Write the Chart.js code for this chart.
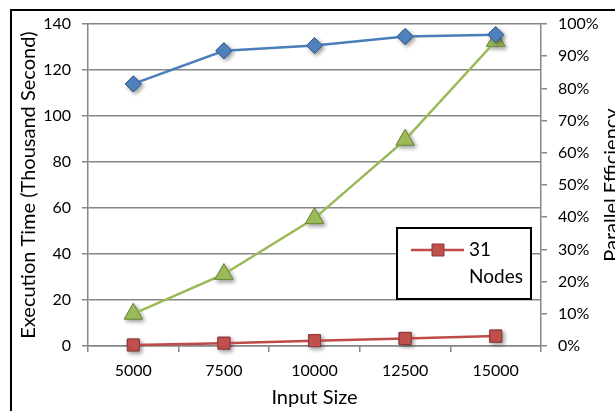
<!DOCTYPE html>
<html>
<head>
<meta charset="utf-8">
<script src="https://cdn.jsdelivr.net/npm/chart.js@4"></script>
<style>
  html, body { margin: 0; padding: 0; background: #fff; overflow: hidden; width: 615px; height: 411px; }
  #wrap { position: relative; width: 615px; height: 411px; overflow: hidden; background: #fff; }
  #c { position: absolute; left: 0; top: 0; }
  #frame { position: absolute; left: 10px; top: 9px; width: 700px; height: 500px; border: 2px solid #000; pointer-events: none; }
</style>
</head>
<body>
<div id="wrap">
  <canvas id="c" width="640" height="411"></canvas>
  <div id="frame"></div>
</div>
<script>
// Input sizes on the category axis
const inputSizes = ['5000', '7500', '10000', '12500', '15000'];
// Parallel efficiency, percent (right axis)
const efficiencyPct = [81.4, 91.7, 93.3, 96.1, 96.7];
// Execution time, thousand seconds (left axis)
const timeSerial = [14.0, 31.2, 55.5, 89.6, 132.6];
const time31Nodes = [0.4, 1.2, 2.3, 3.3, 4.3];
// Axis tick values
const timeTicks = [0, 20, 40, 60, 80, 100, 120, 140];
const effTicks = [0, 10, 20, 30, 40, 50, 60, 70, 80, 90, 100];

const FONT = 'Lato';
const AXIS_GRAY = '#868686';

const BLUE = { line: '#4A7EBB', fill: '#4F81BD', edge: '#385D8A' };
const RED = { line: '#BE4B48', fill: '#C0504D', edge: '#8C3836' };
const GREEN = { line: '#98B954', fill: '#9BBB59', edge: '#71893F' };

// Soft drop shadow under each marker, drawn before the series itself
const markerShadowPlugin = {
  id: 'markerShadow',
  beforeDatasetDraw(chart, args) {
    const ctx = chart.ctx;
    ctx.save();
    ctx.shadowColor = 'rgba(0,0,0,0.4)';
    ctx.shadowBlur = 4;
    ctx.shadowOffsetX = 2;
    ctx.shadowOffsetY = 2;
    args.meta.data.forEach(pt => pt.draw(ctx, chart.chartArea));
    ctx.restore();
  }
};

// Right axis title reads bottom-to-top
const rightTitlePlugin = {
  id: 'rightTitle',
  afterDraw(chart) {
    const ctx = chart.ctx;
    const a = chart.chartArea;
    ctx.save();
    ctx.translate(612, (a.top + a.bottom) / 2);
    ctx.rotate(-Math.PI / 2);
    ctx.font = '20px ' + FONT;
    ctx.fillStyle = '#000';
    ctx.textAlign = 'center';
    ctx.textBaseline = 'middle';
    ctx.fillText('Parallel Efficiency', 0, 0);
    ctx.restore();
  }
};

// Boxed legend for the 31-node series, text wrapped on two lines
const boxLegendPlugin = {
  id: 'boxLegend',
  afterDatasetsDraw(chart) {
    const ctx = chart.ctx;
    const a = chart.chartArea;
    const ds = chart.data.datasets[2];
    const x0 = a.right - 144, y0 = a.top + 204, w = 134, h = 71;
    ctx.save();
    ctx.fillStyle = '#fff';
    ctx.fillRect(x0, y0, w, h);
    ctx.lineWidth = 2;
    ctx.strokeStyle = '#000';
    ctx.strokeRect(x0, y0, w, h);
    const ly = y0 + 22;
    ctx.strokeStyle = ds.borderColor;
    ctx.lineWidth = ds.borderWidth;
    ctx.beginPath();
    ctx.moveTo(x0 + 14, ly);
    ctx.lineTo(x0 + 67, ly);
    ctx.stroke();
    ctx.restore();
    ctx.save();
    ctx.fillStyle = ds.pointBackgroundColor;
    ctx.strokeStyle = ds.pointBorderColor;
    ctx.lineWidth = ds.pointBorderWidth;
    Chart.helpers.drawPoint(ctx, {
      pointStyle: ds.pointStyle,
      radius: ds.pointRadius,
      borderWidth: ds.pointBorderWidth,
      rotation: 0
    }, x0 + 41, ly);
    ctx.restore();
    ctx.save();
    ctx.font = '19px ' + FONT;
    ctx.fillStyle = '#000';
    ctx.textAlign = 'left';
    ctx.textBaseline = 'middle';
    ctx.fillText('31', x0 + 72, ly);
    ctx.fillText('Nodes', x0 + 72, ly + 27);
    ctx.restore();
  }
};

function fixedTicks(values) {
  return function (scale) {
    scale.ticks = values.map(v => ({ value: v }));
  };
}

function build() {
  Chart.defaults.font.family = FONT;
  Chart.defaults.color = '#000';

  new Chart(document.getElementById('c'), {
    type: 'line',
    data: {
      labels: inputSizes,
      datasets: [
        {
          label: 'Parallel Efficiency',
          data: efficiencyPct,
          yAxisID: 'y1',
          borderColor: BLUE.line,
          borderWidth: 2.5,
          pointStyle: 'rectRot',
          pointRadius: 8,
          pointBackgroundColor: BLUE.fill,
          pointBorderColor: BLUE.edge,
          pointBorderWidth: 1,
          tension: 0
        },
        {
          label: 'Execution Time',
          data: timeSerial,
          yAxisID: 'y',
          borderColor: GREEN.line,
          borderWidth: 2.5,
          pointStyle: 'triangle',
          pointRadius: 10.5,
          pointBackgroundColor: GREEN.fill,
          pointBorderColor: GREEN.edge,
          pointBorderWidth: 1,
          tension: 0
        },
        {
          label: '31 Nodes',
          data: time31Nodes,
          yAxisID: 'y',
          borderColor: RED.line,
          borderWidth: 2.5,
          pointStyle: 'rect',
          pointRadius: 8.5,
          pointBackgroundColor: RED.fill,
          pointBorderColor: RED.edge,
          pointBorderWidth: 1,
          tension: 0
        }
      ]
    },
    options: {
      responsive: false,
      animation: false,
      devicePixelRatio: 1,
      layout: { padding: { top: 24, left: 0, right: 0, bottom: 0 } },
      plugins: {
        legend: { display: false },
        tooltip: { enabled: false },
        title: { display: false }
      },
      scales: {
        x: {
          type: 'category',
          offset: true,
          grid: { drawOnChartArea: false, offset: true, tickLength: 6, color: AXIS_GRAY, lineWidth: 1.5 },
          border: { color: AXIS_GRAY, width: 1.5 },
          ticks: { font: { size: 16 }, color: '#000', padding: 9, maxRotation: 0, autoSkip: false },
          title: { display: true, text: 'Input Size', font: { size: 20 }, color: '#000', padding: { top: 0, bottom: 1 } },
          afterFit(s) { s.height = 65; }
        },
        y: {
          position: 'left',
          min: 0,
          max: 140,
          afterBuildTicks: fixedTicks(timeTicks),
          grid: { color: AXIS_GRAY, lineWidth: 1.5, tickLength: 6 },
          border: { color: AXIS_GRAY, width: 1.5 },
          ticks: { font: { size: 16 }, color: '#000', padding: 11 },
          title: { display: true, text: 'Execution Time (Thousand Second)', font: { size: 20 }, color: '#000', padding: { top: 17, bottom: 0 } },
          afterFit(s) { s.width = 88; }
        },
        y1: {
          position: 'right',
          min: 0,
          max: 100,
          afterBuildTicks: fixedTicks(effTicks),
          grid: { drawOnChartArea: false, color: AXIS_GRAY, lineWidth: 1.5, tickLength: 6 },
          border: { color: AXIS_GRAY, width: 1.5 },
          ticks: { font: { size: 16 }, color: '#000', padding: 11, callback: v => v + '%' },
          afterFit(s) { s.width = 640 - 541; }
        }
      }
    },
    plugins: [markerShadowPlugin, boxLegendPlugin, rightTitlePlugin]
  });
}

if (document.fonts && document.fonts.load) {
  Promise.all([
    document.fonts.load('16px ' + FONT),
    document.fonts.load('20px ' + FONT)
  ]).then(build, build);
} else {
  build();
}
</script>
</body>
</html>
